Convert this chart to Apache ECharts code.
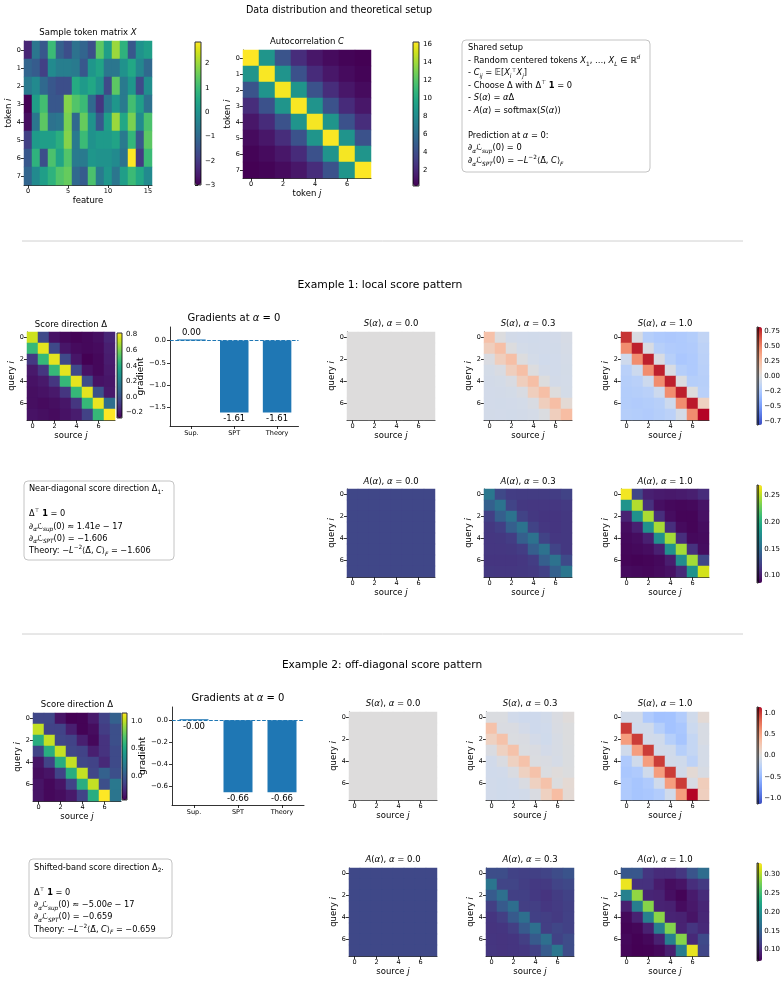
<!DOCTYPE html>
<html><head><meta charset="utf-8">
<script src="https://cdn.jsdelivr.net/npm/echarts@6.0.0/dist/echarts.min.js"></script>
<style>html,body{margin:0;padding:0;background:#fff}#c{width:781px;height:985px}</style>
</head><body><div id="c"></div>
<script>
// ---------------- data ----------------
const idx8 = ['0','1','2','3','4','5','6','7'];
const idx16 = ['0','1','2','3','4','5','6','7','8','9','10','11','12','13','14','15'];
const gradCats = ['Sup.', 'SPT', 'Theory'];

const tokenMatrix = [
  [-2.4,-0.7,-1.4,1.0,-1.2,-1.6,-0.8,-1.1,-1.6,1.4,0.3,2.0,0.8,-1.4,0.0,0.3],
  [-1.1,-1.3,-1.9,-0.2,-0.5,-0.5,-0.6,-1.4,0.1,0.4,-0.7,-0.7,0.0,0.5,-0.3,-1.0],
  [-0.6,-0.2,-1.0,-1.4,-1.6,-1.6,0.6,0.2,0.5,0.0,-1.7,1.4,-0.6,0.1,-1.7,-0.1],
  [-3.0,0.3,1.1,-1.4,-1.4,1.8,1.3,1.0,-1.0,-2.1,-0.7,0.1,-0.6,1.1,0.3,-0.8],
  [-2.8,-0.7,1.4,-0.8,-0.7,1.7,-1.0,1.5,0.0,-1.4,0.3,2.0,0.5,1.7,-0.2,1.2],
  [-1.9,0.2,0.3,0.3,0.7,1.8,-0.6,1.0,0.0,0.2,0.2,0.4,-0.6,0.9,-1.4,1.4],
  [-1.4,0.8,-1.6,1.2,0.4,1.3,-0.6,-0.6,0.1,0.0,0.0,-0.2,-0.8,2.89,-2.0,1.0],
  [-1.1,-0.2,0.3,0.8,1.3,1.5,-1.0,-1.3,1.2,-0.6,0.1,-0.7,0.3,1.0,0.5,-0.2]
];
const autocorr = [
  [16.2,8.6,4.4,2.3,1.2,0.7,0.4,0.27],
  [8.6,16.1,8.5,4.2,2.2,1.2,0.7,0.4],
  [4.4,8.5,16.0,8.6,4.3,2.3,1.2,0.7],
  [2.3,4.2,8.6,16.1,8.5,4.3,2.2,1.2],
  [1.2,2.2,4.3,8.5,16.0,8.6,4.2,2.3],
  [0.7,1.2,2.3,4.3,8.6,16.1,8.5,4.3],
  [0.4,0.7,1.2,2.2,4.2,8.5,16.0,8.6],
  [0.27,0.4,0.7,1.2,2.3,4.3,8.6,16.2]
];
const sZero = [
  [0,0,0,0,0,0,0,0],[0,0,0,0,0,0,0,0],[0,0,0,0,0,0,0,0],[0,0,0,0,0,0,0,0],
  [0,0,0,0,0,0,0,0],[0,0,0,0,0,0,0,0],[0,0,0,0,0,0,0,0],[0,0,0,0,0,0,0,0]
];
const aZero = [
  [0.125,0.125,0.125,0.125,0.125,0.125,0.125,0.125],[0.125,0.125,0.125,0.125,0.125,0.125,0.125,0.125],
  [0.125,0.125,0.125,0.125,0.125,0.125,0.125,0.125],[0.125,0.125,0.125,0.125,0.125,0.125,0.125,0.125],
  [0.125,0.125,0.125,0.125,0.125,0.125,0.125,0.125],[0.125,0.125,0.125,0.125,0.125,0.125,0.125,0.125],
  [0.125,0.125,0.125,0.125,0.125,0.125,0.125,0.125],[0.125,0.125,0.125,0.125,0.125,0.125,0.125,0.125]
];
// Example 1
const delta1 = [
  [0.74,-0.03,-0.22,-0.25,-0.26,-0.25,-0.23,-0.16],
  [0.46,0.78,-0.03,-0.21,-0.24,-0.25,-0.24,-0.18],
  [-0.09,0.46,0.78,-0.03,-0.21,-0.27,-0.25,-0.19],
  [-0.2,-0.1,0.46,0.78,-0.03,-0.22,-0.25,-0.2],
  [-0.22,-0.2,-0.1,0.46,0.78,-0.02,-0.22,-0.21],
  [-0.23,-0.22,-0.2,-0.1,0.46,0.78,0.0,-0.2],
  [-0.23,-0.24,-0.23,-0.21,-0.1,0.46,0.79,0.12],
  [-0.22,-0.23,-0.24,-0.22,-0.19,-0.06,0.46,0.82]
];
const s1Mid = [
  [0.222,-0.009,-0.066,-0.075,-0.078,-0.075,-0.069,-0.048],
  [0.138,0.234,-0.009,-0.063,-0.072,-0.075,-0.072,-0.054],
  [-0.027,0.138,0.234,-0.009,-0.063,-0.081,-0.075,-0.057],
  [-0.06,-0.03,0.138,0.234,-0.009,-0.066,-0.075,-0.06],
  [-0.066,-0.06,-0.03,0.138,0.234,-0.006,-0.066,-0.063],
  [-0.069,-0.066,-0.06,-0.03,0.138,0.234,0.0,-0.06],
  [-0.069,-0.072,-0.069,-0.063,-0.03,0.138,0.237,0.036],
  [-0.066,-0.069,-0.072,-0.066,-0.057,-0.018,0.138,0.246]
];
const s1Full = [
  [0.74,-0.03,-0.22,-0.25,-0.26,-0.25,-0.23,-0.16],
  [0.46,0.78,-0.03,-0.21,-0.24,-0.25,-0.24,-0.18],
  [-0.09,0.46,0.78,-0.03,-0.21,-0.27,-0.25,-0.19],
  [-0.2,-0.1,0.46,0.78,-0.03,-0.22,-0.25,-0.2],
  [-0.22,-0.2,-0.1,0.46,0.78,-0.02,-0.22,-0.21],
  [-0.23,-0.22,-0.2,-0.1,0.46,0.78,0.0,-0.2],
  [-0.23,-0.24,-0.23,-0.21,-0.1,0.46,0.79,0.12],
  [-0.22,-0.23,-0.24,-0.22,-0.19,-0.06,0.46,0.82]
];
const a1Mid = [
  [0.159,0.126,0.119,0.118,0.118,0.118,0.119,0.122],
  [0.142,0.156,0.123,0.116,0.115,0.115,0.115,0.117],
  [0.120,0.141,0.156,0.122,0.116,0.114,0.114,0.116],
  [0.116,0.120,0.141,0.156,0.122,0.115,0.114,0.116],
  [0.115,0.116,0.119,0.141,0.155,0.122,0.115,0.116],
  [0.115,0.115,0.116,0.119,0.141,0.155,0.123,0.116],
  [0.114,0.114,0.114,0.115,0.119,0.141,0.155,0.127],
  [0.116,0.115,0.115,0.116,0.117,0.121,0.142,0.158]
];
const a1Full = [
  [0.267,0.124,0.102,0.099,0.098,0.099,0.101,0.109],
  [0.181,0.249,0.111,0.093,0.090,0.089,0.090,0.095],
  [0.103,0.179,0.247,0.110,0.092,0.088,0.088,0.094],
  [0.092,0.102,0.179,0.246,0.110,0.091,0.088,0.092],
  [0.090,0.092,0.102,0.178,0.245,0.110,0.090,0.091],
  [0.089,0.090,0.092,0.102,0.178,0.245,0.112,0.092],
  [0.088,0.087,0.088,0.090,0.100,0.176,0.245,0.125],
  [0.091,0.090,0.089,0.091,0.094,0.107,0.180,0.258]
];
const grad1 = [1.41e-17, -1.606, -1.606];
// Example 2
const delta2 = [
  [-0.1,-0.1,-0.35,-0.43,-0.42,-0.33,-0.12,0.05],
  [1.0,-0.12,-0.12,-0.3,-0.42,-0.38,-0.15,-0.05],
  [0.55,1.0,-0.1,-0.12,-0.3,-0.4,-0.2,-0.05],
  [-0.12,0.55,1.0,-0.1,-0.12,-0.3,-0.2,-0.08],
  [-0.35,-0.12,0.55,1.0,-0.1,-0.12,-0.25,-0.08],
  [-0.38,-0.35,-0.12,0.55,1.0,-0.1,0.05,-0.05],
  [-0.35,-0.4,-0.35,-0.12,0.55,1.0,-0.05,0.2],
  [-0.35,-0.4,-0.38,-0.33,-0.12,0.55,1.14,0.18]
];
const s2Mid = [
  [-0.03,-0.03,-0.105,-0.129,-0.126,-0.099,-0.036,0.015],
  [0.3,-0.036,-0.036,-0.09,-0.126,-0.114,-0.045,-0.015],
  [0.165,0.3,-0.03,-0.036,-0.09,-0.12,-0.06,-0.015],
  [-0.036,0.165,0.3,-0.03,-0.036,-0.09,-0.06,-0.024],
  [-0.105,-0.036,0.165,0.3,-0.03,-0.036,-0.075,-0.024],
  [-0.114,-0.105,-0.036,0.165,0.3,-0.03,0.015,-0.015],
  [-0.105,-0.12,-0.105,-0.036,0.165,0.3,-0.015,0.06],
  [-0.105,-0.12,-0.114,-0.099,-0.036,0.165,0.342,0.054]
];
const s2Full = [
  [-0.1,-0.1,-0.35,-0.43,-0.42,-0.33,-0.12,0.05],
  [1.0,-0.12,-0.12,-0.3,-0.42,-0.38,-0.15,-0.05],
  [0.55,1.0,-0.1,-0.12,-0.3,-0.4,-0.2,-0.05],
  [-0.12,0.55,1.0,-0.1,-0.12,-0.3,-0.2,-0.08],
  [-0.35,-0.12,0.55,1.0,-0.1,-0.12,-0.25,-0.08],
  [-0.38,-0.35,-0.12,0.55,1.0,-0.1,0.05,-0.05],
  [-0.35,-0.4,-0.35,-0.12,0.55,1.0,-0.05,0.2],
  [-0.35,-0.4,-0.38,-0.33,-0.12,0.55,1.14,0.18]
];
const a2Mid = [
  [0.130,0.130,0.120,0.118,0.118,0.121,0.129,0.136],
  [0.171,0.122,0.122,0.116,0.112,0.113,0.121,0.125],
  [0.144,0.165,0.118,0.118,0.112,0.108,0.115,0.120],
  [0.117,0.143,0.163,0.117,0.117,0.111,0.114,0.118],
  [0.109,0.117,0.143,0.164,0.118,0.117,0.113,0.119],
  [0.108,0.109,0.117,0.143,0.164,0.117,0.123,0.119],
  [0.109,0.108,0.109,0.117,0.143,0.164,0.120,0.129],
  [0.110,0.108,0.109,0.111,0.118,0.144,0.172,0.129]
];
const a2Full = [
  [0.140,0.140,0.109,0.101,0.101,0.111,0.137,0.162],
  [0.324,0.106,0.106,0.088,0.078,0.082,0.103,0.113],
  [0.184,0.288,0.096,0.094,0.079,0.071,0.087,0.101],
  [0.092,0.180,0.283,0.094,0.092,0.077,0.085,0.096],
  [0.074,0.093,0.182,0.285,0.095,0.093,0.082,0.097],
  [0.071,0.073,0.092,0.180,0.282,0.094,0.109,0.099],
  [0.074,0.070,0.074,0.092,0.181,0.283,0.099,0.127],
  [0.0725,0.069,0.070,0.074,0.091,0.178,0.322,0.123]
];
const grad2 = [-5.00e-17, -0.659, -0.659];

// colour-bar tick values
const ticksX = [-3,-2,-1,0,1,2];
const ticksC = [2,4,6,8,10,12,14,16];
const ticksD1 = [-0.2,0,0.2,0.4,0.6,0.8];
const ticksS1 = [-0.75,-0.5,-0.25,0,0.25,0.5,0.75];
const ticksA1 = [0.1,0.15,0.2,0.25];
const ticksD2 = [0,0.5,1];
const ticksS2 = [-1,-0.5,0,0.5,1];
const ticksA2 = [0.1,0.15,0.2,0.25,0.3];
const ticksG1 = [-1.5,-1,-0.5,0];
const ticksG2 = [-0.6,-0.4,-0.2,0];

// ---------------- styling helpers ----------------
const FONT = 'DejaVu Sans';
const VIRIDIS = ['#440154','#481a6c','#472f7d','#414487','#39568c','#31688e','#2a788e','#23888e','#1f988b','#22a884','#35b779','#54c568','#7ad151','#a5db36','#d2e21b','#fde725'];
const COOLWARM = ['#3b4cc0','#445acc','#4d68d7','#5775e1','#6282ea','#6c8ef1','#779af7','#82a5fb','#8db0fe','#98b9ff','#a3c2ff','#aec9fd','#b8d0f9','#c2d5f4','#ccd9ee','#d5dbe6','#dddcdc','#e5d8d1','#ecd3c5','#f1ccb9','#f5c4ad','#f7bba0','#f7b194','#f7a687','#f49a7b','#f18d6f','#ec7f63','#e57058','#de604d','#d55042','#cb3e38','#c0282f','#b40426'];
const AX = {color:'#000', width:0.8};
function rich(size) {
  const s = size * 0.7, lh = size * 0.8;
  return {
    i: {fontSize:size, fontFamily:FONT, fontStyle:'italic'},
    b: {fontSize:size, fontFamily:FONT, fontWeight:'bold'},
    sb: {fontSize:s, fontFamily:FONT, verticalAlign:'bottom', lineHeight:lh},
    si: {fontSize:s, fontFamily:FONT, fontStyle:'italic', verticalAlign:'bottom', lineHeight:lh},
    sp: {fontSize:s, fontFamily:FONT, verticalAlign:'top', lineHeight:lh},
    spi: {fontSize:s, fontFamily:FONT, fontStyle:'italic', verticalAlign:'top', lineHeight:lh}
  };
}
const fmtN = d => v => (v < -1e-9 ? '\u2212' : '') + Math.abs(v).toFixed(d);

function toCells(mat) {
  const out = [];
  mat.forEach((row, i) => row.forEach((v, j) => out.push([j, i, v])));
  return out;
}

const grids = [], xAxes = [], yAxes = [], series = [], visualMaps = [], graphics = [];

function addHeat(box, mat, cats, o) {
  const gi = grids.length;
  grids.push({left:box[0], top:box[1], width:box[2], height:box[3], show:false});
  xAxes.push({type:'category', gridIndex:gi, data:cats[0],
    axisLine:{show:true, onZero:false, lineStyle:AX},
    axisTick:{show:true, alignWithLabel:true, interval:o.xInt, length:3, lineStyle:AX},
    axisLabel:{interval:o.xInt, fontSize:6.5, margin:3, color:'#000', fontFamily:FONT},
    splitLine:{show:false},
    name:o.xName, nameLocation:'middle', nameGap:o.xGap,
    nameTextStyle:{fontSize:8.5, color:'#000', fontFamily:FONT, rich:rich(8.5)}});
  yAxes.push({type:'category', gridIndex:gi, data:cats[1], inverse:true,
    axisLine:{show:true, onZero:false, lineStyle:AX},
    axisTick:{show:true, alignWithLabel:true, interval:o.yInt, length:3, lineStyle:AX},
    axisLabel:{interval:o.yInt, fontSize:6.5, margin:3, color:'#000', fontFamily:FONT},
    splitLine:{show:false},
    name:o.yName, nameLocation:'middle', nameGap:o.yGap, nameRotate:90,
    nameTextStyle:{fontSize:8.5, color:'#000', fontFamily:FONT, rich:rich(8.5)}});
  const si = series.length;
  series.push({type:'heatmap', xAxisIndex:gi, yAxisIndex:gi, data:toCells(mat),
    emphasis:{disabled:true}, itemStyle:{borderWidth:0}, progressive:0, silent:true});
  return si;
}

function addColorbar(box, vmin, vmax, colors, seriesIdx, ticks, fmt, margin) {
  const gi = grids.length;
  grids.push({left:box[0], top:box[1], width:box[2], height:box[3], show:true, z:10,
    borderColor:'#000', borderWidth:0.8, backgroundColor:'rgba(0,0,0,0)'});
  xAxes.push({type:'value', gridIndex:gi, show:false, min:0, max:1});
  yAxes.push({type:'value', gridIndex:gi, position:'right', min:vmin, max:vmax,
    axisLine:{show:false}, splitLine:{show:false},
    axisTick:{show:true, customValues:ticks, length:3, lineStyle:AX},
    axisLabel:{customValues:ticks, formatter:fmt, fontSize:7, margin:margin || 4, color:'#000', fontFamily:FONT}});
  visualMaps.push({type:'continuous', seriesIndex:seriesIdx, dimension:2, min:vmin, max:vmax,
    inRange:{color:colors}, left:box[0], top:box[1], itemWidth:box[2], itemHeight:box[3],
    calculable:false, padding:0, borderWidth:0, show:true, hoverLink:false, text:null});
}

function addBars(box, vals, yMin, yMax, ticks, yGap, barW) {
  const gi = grids.length;
  grids.push({left:box[0], top:box[1], width:box[2], height:box[3], show:false});
  xAxes.push({type:'category', gridIndex:gi, data:gradCats,
    axisLine:{show:true, onZero:false, lineStyle:AX},
    axisTick:{show:true, alignWithLabel:true, length:3, lineStyle:AX},
    axisLabel:{interval:0, fontSize:6.5, margin:4, color:'#000', fontFamily:FONT}});
  yAxes.push({type:'value', gridIndex:gi, min:yMin, max:yMax,
    axisLine:{show:true, lineStyle:AX}, splitLine:{show:false},
    axisTick:{show:true, customValues:ticks, length:3, lineStyle:AX},
    axisLabel:{customValues:ticks, formatter:fmtN(1), fontSize:7, margin:4, color:'#000', fontFamily:FONT},
    name:'gradient', nameLocation:'middle', nameRotate:90, nameGap:yGap,
    nameTextStyle:{fontSize:9, color:'#000', fontFamily:FONT}});
  series.push({type:'bar', xAxisIndex:gi, yAxisIndex:gi, barWidth:barW, barMinHeight:1,
    itemStyle:{color:'#1f77b4'}, silent:true,
    data:vals.map(v => ({value:v, label:{position: v >= 0 ? 'top' : 'bottom'}})),
    label:{show:true, formatter:p => p.value.toFixed(2), fontSize:8.5, color:'#000', distance:2, fontFamily:FONT},
    markLine:{silent:true, symbol:['none','none'], label:{show:false},
      lineStyle:{type:[3.7,1.6], color:'#1f77b4', width:1}, data:[{yAxis:0}]}});
}

function addText(x, y, text, size, extra) {
  graphics.push({type:'text', x:x, y:y, silent:true, z:20,
    style:Object.assign({text:text, fontSize:size, fontFamily:FONT, fill:'#000',
      align:'center', verticalAlign:'middle', textAlign:'center', textVerticalAlign:'middle',
      rich:rich(size)}, extra || {})});
}
function addBox(x, y, w, h) {
  graphics.push({type:'rect', z:15, silent:true, shape:{x:x, y:y, width:w, height:h, r:4},
    style:{fill:'#fff', stroke:'#c4c4c4', lineWidth:1}});
}
function addRule(y) {
  graphics.push({type:'line', z:15, silent:true, shape:{x1:22, y1:y, x2:743, y2:y},
    style:{stroke:'#d0d0d0', lineWidth:1}});
}
const leftBlock = {align:'left', textAlign:'left', verticalAlign:'top', textVerticalAlign:'top'};

// ---------------- top row ----------------
const sX = addHeat([24,41,128,144], tokenMatrix, [idx16, idx8],
  {xInt:4, yInt:0, xName:'feature', xGap:9, yName:'token {i|i}', yGap:9});
addColorbar([195,42,6,143], -3.0, 2.89, VIRIDIS, [sX], ticksX, fmtN(0));
const sC = addHeat([243,50,128,128], autocorr, [idx8, idx8],
  {xInt:1, yInt:0, xName:'token {i|j}', xGap:11, yName:'token {i|i}', yGap:10});
addColorbar([413,42,6,144], 0.27, 16.2, VIRIDIS, [sC], ticksC, fmtN(0));

addText(339, 10, 'Data distribution and theoretical setup', 9.6);
addText(88, 33, 'Sample token matrix {i|X}', 8.5);
addText(307, 42, 'Autocorrelation {i|C}', 8.5);

addBox(462, 40, 188, 132);
addText(468, 42, [
  'Shared setup',
  '- Random centered tokens {i|X}{sb|1}, \u2026, {i|X}{si|L} \u2208 \u211D{spi|d}',
  '- {i|C}{si|ij} = \uD835\uDD3C[{i|X}{si|i}{sp|\u22A4}{i|X}{si|j}]',
  '- Choose \u0394 with \u0394{sp|\u22A4} {b|1} = 0',
  '- {i|S}({i|\u03B1}) = {i|\u03B1}\u0394',
  '- {i|A}({i|\u03B1}) = softmax({i|S}({i|\u03B1}))',
  ' ',
  'Prediction at {i|\u03B1} = 0:',
  '\u2202{si|\u03B1}{i|\u2112}{si|sup}(0) = 0',
  '\u2202{si|\u03B1}{i|\u2112}{si|SPT}(0) = \u2212{i|L}{sp|\u22122}\u27E8\u0394\u0304, {i|C}\u27E9{si|F}'
].join('\n'), 8.3, Object.assign({lineHeight:12.5}, leftBlock));

addRule(241);

// ---------------- example 1 ----------------
addText(380, 285, 'Example 1: local score pattern', 10.8);
const sD1 = addHeat([27,332,88,88], delta1, [idx8, idx8],
  {xInt:1, yInt:1, xName:'source {i|j}', xGap:10, yName:'query {i|i}', yGap:10});
addColorbar([117,333,5,85], -0.27, 0.82, VIRIDIS, [sD1], ticksD1, fmtN(1));
addText(71, 325, 'Score direction \u0394', 8.5);

addBars([170,327,128.5,99], grad1, -1.91, 0.30, ticksG1, 24, 28.5);
addText(234, 318, 'Gradients at {i|\u03B1} = 0', 10);

const ex1Lefts = [347, 484, 621];
const alphaLabels = ['0.0', '0.3', '1.0'];
const s1Set = [sZero, s1Mid, s1Full];
const a1Set = [aZero, a1Mid, a1Full];
const s1Idx = [], a1Idx = [];
ex1Lefts.forEach((lx, k) => {
  s1Idx.push(addHeat([lx,332,88,88], s1Set[k], [idx8, idx8],
    {xInt:1, yInt:1, xName:'source {i|j}', xGap:10, yName:'query {i|i}', yGap:10}));
  addText(lx + 44, 324, '{i|S}({i|\u03B1}), {i|\u03B1} = ' + alphaLabels[k], 8.5);
  a1Idx.push(addHeat([lx,489,88,88], a1Set[k], [idx8, idx8],
    {xInt:1, yInt:1, xName:'source {i|j}', xGap:10, yName:'query {i|i}', yGap:10}));
  addText(lx + 44, 482, '{i|A}({i|\u03B1}), {i|\u03B1} = ' + alphaLabels[k], 8.5);
});
addColorbar([757,327,5,98], -0.82, 0.82, COOLWARM, s1Idx, ticksS1, fmtN(2), 6);
addColorbar([757,485,5,98], 0.086, 0.27, VIRIDIS, a1Idx, ticksA1, fmtN(2), 6);

addBox(24, 481, 150, 79);
addText(29, 483, [
  'Near-diagonal score direction \u0394{sb|1}.',
  ' ',
  '\u0394{sp|\u22A4} {b|1} = 0',
  '\u2202{si|\u03B1}{i|\u2112}{si|sup}(0) \u2248 1.41{i|e} \u2212 17',
  '\u2202{si|\u03B1}{i|\u2112}{si|SPT}(0) = \u22121.606',
  'Theory: \u2212{i|L}{sp|\u22122}\u27E8\u0394\u0304, {i|C}\u27E9{si|F} = \u22121.606'
].join('\n'), 8.2, Object.assign({lineHeight:12.4}, leftBlock));

addRule(634);

// ---------------- example 2 ----------------
addText(382, 665, 'Example 2: off-diagonal score pattern', 10.6);
const sD2 = addHeat([33,713,88,88], delta2, [idx8, idx8],
  {xInt:1, yInt:1, xName:'source {i|j}', xGap:10, yName:'query {i|i}', yGap:10});
addColorbar([122,713,5,87], -0.43, 1.14, VIRIDIS, [sD2], ticksD2, fmtN(1));
addText(77, 705, 'Score direction \u0394', 8.5);

addBars([172,707,132,98], grad2, -0.776, 0.121, ticksG2, 20, 29);
addText(238, 698, 'Gradients at {i|\u03B1} = 0', 10);

const ex2Lefts = [349, 486, 621];
const s2Set = [sZero, s2Mid, s2Full];
const a2Set = [aZero, a2Mid, a2Full];
const s2Idx = [], a2Idx = [];
ex2Lefts.forEach((lx, k) => {
  s2Idx.push(addHeat([lx,712,88,88], s2Set[k], [idx8, idx8],
    {xInt:1, yInt:1, xName:'source {i|j}', xGap:10, yName:'query {i|i}', yGap:10}));
  addText(lx + 44, 704, '{i|S}({i|\u03B1}), {i|\u03B1} = ' + alphaLabels[k], 8.5);
  a2Idx.push(addHeat([lx,868,88,88], a2Set[k], [idx8, idx8],
    {xInt:1, yInt:1, xName:'source {i|j}', xGap:10, yName:'query {i|i}', yGap:10}));
  addText(lx + 44, 860, '{i|A}({i|\u03B1}), {i|\u03B1} = ' + alphaLabels[k], 8.5);
});
addColorbar([757,707,5,97], -1.14, 1.14, COOLWARM, s2Idx, ticksS2, fmtN(1), 6);
addColorbar([757,863,5,98], 0.069, 0.331, VIRIDIS, a2Idx, ticksA2, fmtN(2), 6);

addBox(29, 859, 143, 79);
addText(34, 861.5, [
  'Shifted-band score direction \u0394{sb|2}.',
  ' ',
  '\u0394{sp|\u22A4} {b|1} = 0',
  '\u2202{si|\u03B1}{i|\u2112}{si|sup}(0) \u2248 \u22125.00{i|e} \u2212 17',
  '\u2202{si|\u03B1}{i|\u2112}{si|SPT}(0) = \u22120.659',
  'Theory: \u2212{i|L}{sp|\u22122}\u27E8\u0394\u0304, {i|C}\u27E9{si|F} = \u22120.659'
].join('\n'), 8.2, Object.assign({lineHeight:12.4}, leftBlock));

// ---------------- chart ----------------
const chart = echarts.init(document.getElementById('c'), null, {renderer:'canvas', width:781, height:985});
chart.setOption({
  animation:false,
  backgroundColor:'#fff',
  textStyle:{fontFamily:FONT},
  grid:grids, xAxis:xAxes, yAxis:yAxes,
  visualMap:visualMaps, series:series, graphic:graphics
});
</script></body></html>
